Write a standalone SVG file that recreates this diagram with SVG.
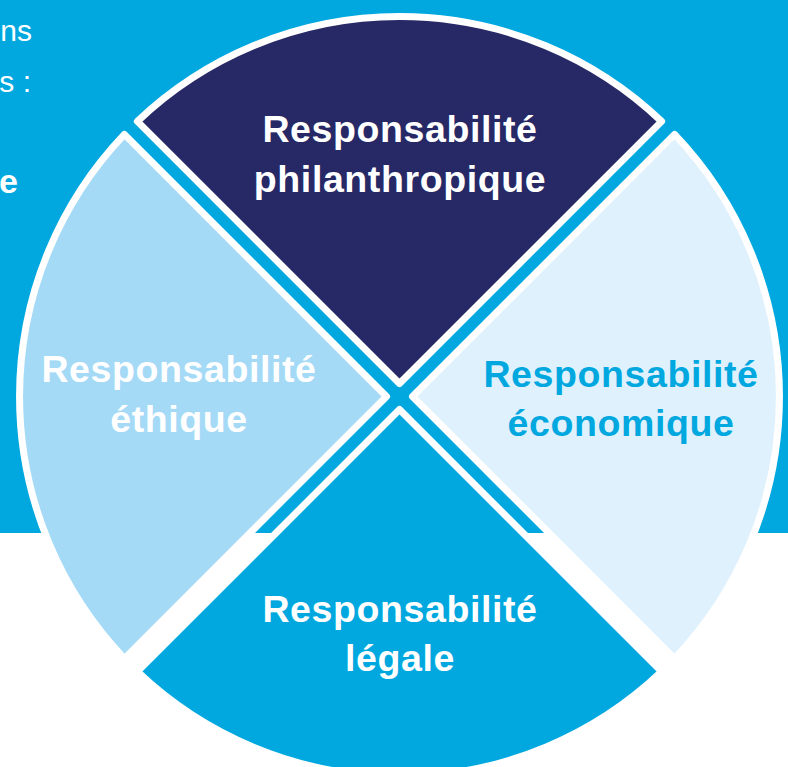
<svg xmlns="http://www.w3.org/2000/svg" width="788" height="767" viewBox="0 0 788 767">
  <style>
    .sector { stroke: #ffffff; stroke-width: 7; stroke-linejoin: round; }
    .lbl { font-family: "Liberation Sans", Arial, sans-serif; font-weight: bold; font-size: 37.5px; letter-spacing: 0.6px; text-anchor: middle; }
    .white { fill: #ffffff; }
    .blue { fill: #00a8df; }
    .side { font-family: "Liberation Sans", Arial, sans-serif; font-size: 30px; fill: #ffffff; text-anchor: end; }
  </style>
  <g id="background">
    <rect x="0" y="0" width="788" height="767" fill="#ffffff"/>
    <rect x="0" y="0" width="788" height="533" fill="#00a8df"/>
    <text class="side" x="32" y="41">ns</text>
    <text class="side" x="31" y="92">s :</text>
    <text class="side" x="18" y="193" style="font-weight:bold;font-size:34px">e</text>
  </g>
  <g id="connectors"></g>
  <g id="node-philanthropique">
    <path class="sector" fill="#262966" d="M399.5,383.5 L137.4,121.4 A380,380 0 0 1 661.6,121.4 Z"/>
    <text class="lbl white" x="400" y="142">Responsabilité</text>
    <text class="lbl white" x="400" y="192">philanthropique</text>
  </g>
  <g id="node-economique">
    <path class="sector" fill="#dff1fd" d="M412.5,396.5 L674.6,134.4 A380,380 0 0 1 674.6,658.6 Z"/>
    <text class="lbl blue" x="621" y="387">Responsabilité</text>
    <text class="lbl blue" x="621" y="436">économique</text>
  </g>
  <g id="node-legale">
    <path class="sector" fill="#00a8df" d="M399.5,409.5 L661.6,671.6 A380,380 0 0 1 137.4,671.6 Z"/>
    <text class="lbl white" x="400" y="622">Responsabilité</text>
    <text class="lbl white" x="400" y="671">légale</text>
  </g>
  <g id="node-ethique">
    <path class="sector" fill="#a5daf7" d="M386.5,396.5 L124.4,658.6 A380,380 0 0 1 124.4,134.4 Z"/>
    <text class="lbl white" x="179" y="382">Responsabilité</text>
    <text class="lbl white" x="179" y="432">éthique</text>
  </g>
</svg>
